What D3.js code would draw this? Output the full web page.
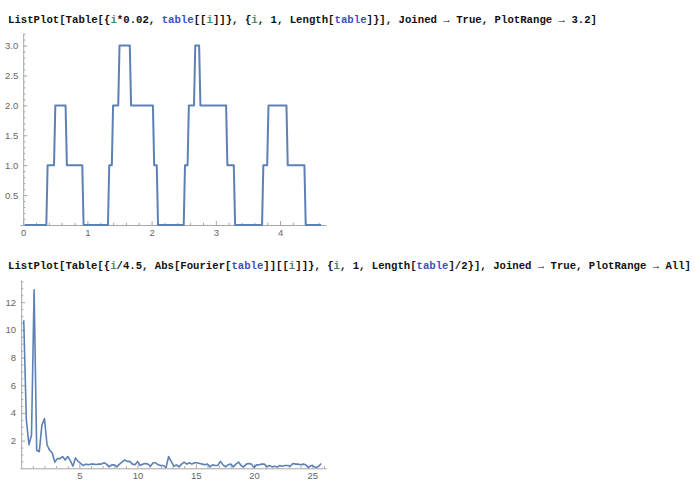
<!DOCTYPE html>
<html>
<head>
<meta charset="utf-8">
<script src="https://cdn.jsdelivr.net/npm/d3@7"></script>
<style>
  html, body { margin: 0; padding: 0; background: #fff; }
  svg { display: block; }
</style>
</head>
<body>
<svg id="chart" width="695" height="494"></svg>
<script>
// ---------- DATA ----------
// Top plot: vertices of the joined step signal (x = i*0.02, y = table[[i]])
const signalX = [0.02, 0.36, 0.38, 0.48, 0.50, 0.66, 0.68, 0.92, 0.94,
                 1.32, 1.34, 1.38, 1.40, 1.48, 1.50, 1.66, 1.68, 2.02, 2.04, 2.08, 2.10,
                 2.50, 2.52, 2.56, 2.58, 2.66, 2.68, 2.74, 2.76, 3.16, 3.18, 3.28, 3.30,
                 3.72, 3.74, 3.80, 3.82, 4.10, 4.12, 4.38, 4.40, 4.64];
const signalY = [0, 0, 1, 1, 2, 2, 1, 1, 0,
                 0, 1, 1, 2, 2, 3, 3, 2, 2, 1, 1, 0,
                 0, 1, 1, 2, 2, 3, 3, 2, 2, 1, 1, 0,
                 0, 1, 1, 2, 2, 1, 1, 0, 0];
const topXTicks = [0, 1, 2, 3, 4];
const topYTicks = [0.5, 1.0, 1.5, 2.0, 2.5, 3.0];

// Bottom plot: |Fourier[table]| for i = 1..116, x = i/4.5
const spectrum = [10.7, 3.5, 1.7, 2.4, 12.9, 1.3, 1.2, 3.1, 3.6, 1.7,
                  1.3, 1.1, 0.45, 0.7, 0.7, 0.85, 0.6, 0.85, 0.55, 0.15,
                  0.75, 0.5, 0.35, 0.2, 0.3, 0.25, 0.3, 0.3, 0.28, 0.3,
                  0.3, 0.4, 0.3, 0.1, 0.25, 0.25, 0.1, 0.3, 0.45, 0.6,
                  0.5, 0.5, 0.3, 0.25, 0.5, 0.2, 0.3, 0.35, 0.3, 0.15,
                  0.4, 0.4, 0.25, 0.2, 0.2, 0.05, 0.85, 0.5, 0.15, 0.25,
                  0.1, 0.3, 0.45, 0.3, 0.4, 0.3, 0.4, 0.4, 0.35, 0.3,
                  0.25, 0.3, 0.1, 0.25, 0.2, 0.2, 0.5, 0.25, 0.1, 0.25,
                  0.3, 0.1, 0.3, 0.45, 0.2, 0.1, 0.3, 0.35, 0.3, 0.05,
                  0.25, 0.25, 0.3, 0.3, 0.1, 0.2, 0.1, 0.15, 0.1, 0.2,
                  0.15, 0.2, 0.2, 0.15, 0.35, 0.3, 0.3, 0.25, 0.3, 0.25,
                  0.05, 0.2, 0.15, 0.05, 0.15, 0.35];
const botXTicks = [5, 10, 15, 20, 25];
const botYTicks = [2, 4, 6, 8, 10, 12];

// Code lines (input cells)
const codeLine1 = [
  ["ListPlot[Table[{", "k"], ["i", "g"], ["*0.02, ", "k"], ["table", "b"], ["[[", "k"], ["i", "g"],
  ["]]}, {", "k"], ["i", "g"], [", 1, Length[", "k"], ["table", "b"],
  ["]}], Joined \u2192 True, PlotRange \u2192 3.2]", "k"]
];
const codeLine2 = [
  ["ListPlot[Table[{", "k"], ["i", "g"], ["/4.5, Abs[Fourier[", "k"], ["table", "b"], ["]][[", "k"],
  ["i", "g"], ["]]}, {", "k"], ["i", "g"], [", 1, Length[", "k"], ["table", "b"],
  ["]/2}], Joined \u2192 True, PlotRange \u2192 All]", "k"]
];

// ---------- STYLE ----------
const lineColor = "#5e81b5";
const axisColor = "#a6a6a6";
const labelColor = "#666";
const codeColors = { k: "#111", g: "#3f8a6e", b: "#3a4fc0" };

const svg = d3.select("#chart");
svg.append("rect").attr("width", 695).attr("height", 494).attr("fill", "#fff");

function drawCode(parts, y, x0, len) {
  const t = svg.append("text")
    .attr("x", x0).attr("y", y)
    .attr("font-family", "'Liberation Mono', 'DejaVu Sans Mono', monospace")
    .attr("font-weight", "bold")
    .attr("font-size", 10.7)
    .attr("textLength", len)
    .attr("lengthAdjust", "spacingAndGlyphs")
    .attr("xml:space", "preserve")
    .style("white-space", "pre");
  parts.forEach(p => t.append("tspan").attr("fill", codeColors[p[1]]).text(p[0]));
}
drawCode(codeLine1, 23, 8, 589);
drawCode(codeLine2, 269, 8, 683);

function styleAxis(g) {
  g.selectAll("path.domain").attr("stroke", axisColor).attr("stroke-width", 1);
  g.selectAll(".tick line").attr("stroke", axisColor).attr("stroke-width", 1);
  g.selectAll("text").attr("fill", labelColor)
    .attr("font-family", "'Liberation Sans', Arial, sans-serif")
    .attr("font-size", 9.5);
}

function range(a, b, step) {
  const out = [];
  for (let v = a; v <= b + 1e-9; v += step) out.push(+v.toFixed(6));
  return out;
}

// ---------- TOP PLOT ----------
{
  const x = d3.scaleLinear().domain([-0.05, 4.716]).range([20, 326]);
  const y = d3.scaleLinear().domain([0, 3.2]).range([225, 33.6]);
  const x0 = x(0);

  const gx = svg.append("g").attr("transform", `translate(0,${y(0)})`);
  gx.call(d3.axisBottom(x).tickValues(range(0, 4.6, 0.2).filter(v => Math.abs(v - Math.round(v)) > 1e-6))
      .tickSizeInner(-2.2).tickSizeOuter(0).tickFormat(""));
  const gx2 = svg.append("g").attr("transform", `translate(0,${y(0)})`);
  gx2.call(d3.axisBottom(x).tickValues(topXTicks).tickSizeInner(-4).tickSizeOuter(0)
      .tickPadding(4).tickFormat(d => String(d)));
  gx2.select("path.domain").remove();
  styleAxis(gx); styleAxis(gx2);

  const gy = svg.append("g").attr("transform", `translate(${x0},0)`);
  gy.call(d3.axisLeft(y).tickValues(range(0.1, 3.2, 0.1).filter(v => Math.abs(v * 2 - Math.round(v * 2)) > 1e-6))
      .tickSizeInner(-2.2).tickSizeOuter(0).tickFormat(""));
  const gy2 = svg.append("g").attr("transform", `translate(${x0},0)`);
  gy2.call(d3.axisLeft(y).tickValues(topYTicks).tickSizeInner(-4).tickSizeOuter(0)
      .tickPadding(5).tickFormat(d3.format(".1f")));
  gy2.select("path.domain").remove();
  styleAxis(gy); styleAxis(gy2);

  const pts = signalX.map((v, i) => [v, signalY[i]]);
  svg.append("path")
    .attr("d", d3.line().x(d => x(d[0])).y(d => y(d[1]))(pts))
    .attr("fill", "none").attr("stroke", lineColor)
    .attr("stroke-width", 2).attr("stroke-linejoin", "round");
}

// ---------- BOTTOM PLOT ----------
{
  const x = d3.scaleLinear().domain([-0.1, 26.2]).range([20, 326.2]);
  const y = d3.scaleLinear().domain([0, 13.6]).range([468.3, 280]);
  const x0 = x(0);

  const gx = svg.append("g").attr("transform", `translate(0,${y(0)})`);
  gx.call(d3.axisBottom(x).tickValues(range(1, 26, 1).filter(v => v % 5 !== 0))
      .tickSizeInner(-2.2).tickSizeOuter(0).tickFormat(""));
  const gx2 = svg.append("g").attr("transform", `translate(0,${y(0)})`);
  gx2.call(d3.axisBottom(x).tickValues(botXTicks).tickSizeInner(-4).tickSizeOuter(0)
      .tickPadding(4).tickFormat(d3.format("d")));
  gx2.select("path.domain").remove();
  styleAxis(gx); styleAxis(gx2);

  const gy = svg.append("g").attr("transform", `translate(${x0},0)`);
  gy.call(d3.axisLeft(y).tickValues(range(0.5, 13.5, 0.5).filter(v => Math.abs(v / 2 - Math.round(v / 2)) > 1e-6))
      .tickSizeInner(-2.2).tickSizeOuter(0).tickFormat(""));
  const gy2 = svg.append("g").attr("transform", `translate(${x0},0)`);
  gy2.call(d3.axisLeft(y).tickValues(botYTicks).tickSizeInner(-4).tickSizeOuter(0)
      .tickPadding(5).tickFormat(d3.format("d")));
  gy2.select("path.domain").remove();
  styleAxis(gy); styleAxis(gy2);

  const pts = spectrum.map((v, i) => [(i + 1) / 4.5, v]);
  svg.append("path")
    .attr("d", d3.line().x(d => x(d[0])).y(d => y(d[1]))(pts))
    .attr("fill", "none").attr("stroke", lineColor)
    .attr("stroke-width", 1.6).attr("stroke-linejoin", "round");
}
</script>
</body>
</html>
